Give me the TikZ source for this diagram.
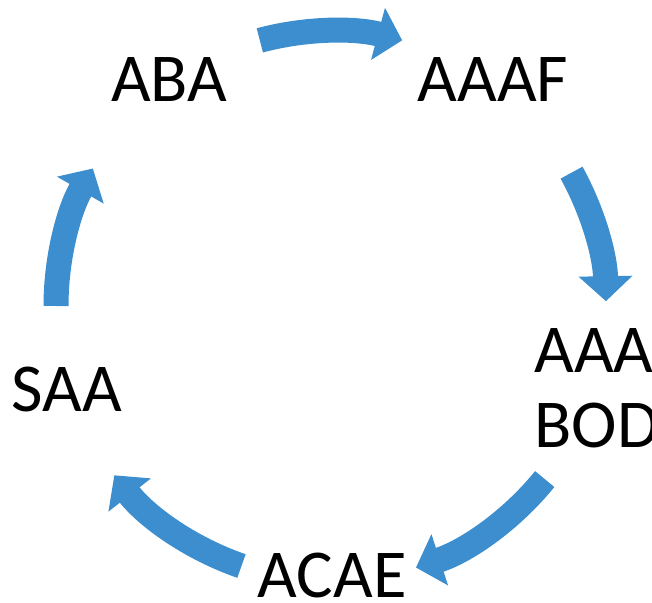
\documentclass[tikz,border=0pt]{standalone}
\usepackage{fontspec}
\setmainfont{Carlito}
\usetikzlibrary{arrows.meta}
\definecolor{cycblue}{RGB}{60,142,206}

\begin{document}
\begin{tikzpicture}[
    cyc/.style={draw=cycblue, line width=0.5cm,
        -{Triangle[width=1.05cm, length=0.5cm]}},
    lbl/.style={inner sep=0pt, font=\fontsize{39pt}{42.7pt}\selectfont}]

    \useasboundingbox (0,0) rectangle (13.04,12.06);
    \coordinate (O) at (6.62,5.94);

    % the five arrows round the circle
    \foreach \a/\b in {105/75, 29/1, -39/-72, -109/-142, 180/150}
        \draw[cyc] ([shift={(\a:5.5)}]O) arc[start angle=\a, end angle=\b, radius=5.5];

    \node[lbl] (aba) at (3.38,10.46) {ABA};
    \node[lbl] (aaaf) at (9.86,10.46) {AAAF};
    \node[lbl, anchor=west, align=left] (bod) at (10.68,4.30) {AAA\\BOD};
    \node[lbl] (acae) at (6.64,0.56) {ACAE};
    \node[lbl] (saa) at (1.34,4.28) {SAA};

\end{tikzpicture}
\end{document}
